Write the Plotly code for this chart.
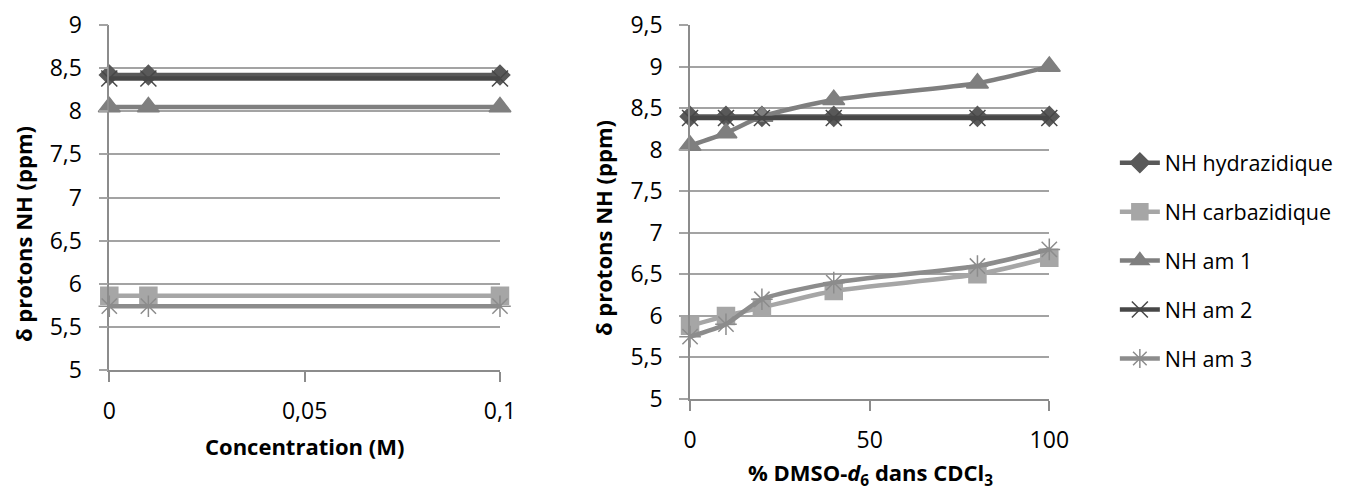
import plotly.graph_objects as go

# ---- data ----
conc_x = [0, 0.01, 0.1]
conc_hydrazidique = [8.42, 8.42, 8.42]
conc_carbazidique = [5.86, 5.86, 5.86]
conc_am1 = [8.05, 8.05, 8.05]
conc_am2 = [8.38, 8.38, 8.38]
conc_am3 = [5.74, 5.74, 5.74]

dmso_x = [0, 10, 20, 40, 80, 100]
dmso_hydrazidique = [8.4, 8.4, 8.4, 8.4, 8.4, 8.4]
dmso_carbazidique = [5.88, 6.0, 6.1, 6.3, 6.5, 6.7]
dmso_am1 = [8.05, 8.2, 8.4, 8.6, 8.8, 9.0]
dmso_am2 = [8.38, 8.38, 8.38, 8.38, 8.38, 8.38]
dmso_am3 = [5.75, 5.9, 6.2, 6.4, 6.6, 6.8]

series_names = ["NH hydrazidique", "NH carbazidique", "NH am 1", "NH am 2", "NH am 3"]

# ---- styles ----
colors = ["#595959", "#a6a6a6", "#7f7f7f", "#474747", "#8c8c8c"]
symbols = ["diamond", "square", "triangle-up", "x-thin-open", "asterisk-open"]
sizes = [15, 17, 19, 16, 18]
FONT = "Open Sans"

fig = go.Figure()

conc_series = [conc_hydrazidique, conc_carbazidique, conc_am1, conc_am2, conc_am3]
dmso_series = [dmso_hydrazidique, dmso_carbazidique, dmso_am1, dmso_am2, dmso_am3]

for i, name in enumerate(series_names):
    fig.add_trace(go.Scatter(
        x=conc_x, y=conc_series[i], name=name, mode="lines+markers",
        line=dict(color=colors[i], width=4.5),
        marker=dict(symbol=symbols[i], size=sizes[i], color=colors[i],
                    line=dict(color=colors[i], width=1.5)),
        xaxis="x", yaxis="y", showlegend=False, cliponaxis=False,
        legendgroup=name,
    ))

for i, name in enumerate(series_names):
    fig.add_trace(go.Scatter(
        x=dmso_x, y=dmso_series[i], name=name, mode="lines+markers",
        line=dict(color=colors[i], width=4.5, shape="spline", smoothing=0.6),
        marker=dict(symbol=symbols[i], size=sizes[i], color=colors[i],
                    line=dict(color=colors[i], width=1.5)),
        xaxis="x2", yaxis="y2", showlegend=True, cliponaxis=False,
        legendgroup=name,
    ))

grid = "#a3a3a3"
axis_line = "#8c8c8c"
tickfont = dict(family=FONT, size=23, color="#000000")

common_y = dict(showgrid=True, gridcolor=grid, gridwidth=1.5, dtick=0.5,
                showline=True, linecolor=axis_line, linewidth=1.5,
                ticks="outside", ticklen=9, tickcolor=grid, tickwidth=1.5,
                tickfont=tickfont, zeroline=False, ticklabelstandoff=12,
                automargin=False)
common_x = dict(showgrid=False, showline=True, linecolor=axis_line, linewidth=1.5,
                ticks="outside", ticklen=10, tickcolor=axis_line, tickwidth=1.5,
                tickfont=tickfont, zeroline=False, ticklabelstandoff=10,
                automargin=False)

fig.update_layout(
    width=1349, height=486,
    margin=dict(l=0, r=0, t=0, b=0, autoexpand=False),
    paper_bgcolor="white", plot_bgcolor="white",
    separators=", ",
    font=dict(family=FONT, size=22, color="#000000"),
    xaxis=dict(domain=[0.0751, 0.3647], range=[0, 0.1], dtick=0.05, anchor="y", **common_x),
    yaxis=dict(domain=[0.2551, 0.965], range=[5, 9], anchor="x", **common_y),
    xaxis2=dict(domain=[0.5056, 0.7719], range=[0, 100], dtick=50, anchor="y2", **common_x),
    yaxis2=dict(domain=[0.1955, 0.965], range=[5, 9.5], anchor="x2", **common_y),
    legend=dict(x=0.8205, y=0.48, xanchor="left", yanchor="middle",
                font=dict(family=FONT, size=21.5, color="#000000"),
                tracegroupgap=18, itemwidth=40, bgcolor="rgba(0,0,0,0)"),
    showlegend=True,
)

# axis-title annotations, placed in paper coordinates (pixel -> fraction)
W, H = 1349, 486
titles = [
    ("<b>Concentration (M)</b>", 0, 296, 438),
    ("<b>δ protons NH (ppm)</b>", -90, 15, 226),
    ("<b>% DMSO-<i>d</i><sub>6</sub> dans CDCl<sub>3</sub></b>", 0, 862, 466),
    ("<b>δ protons NH (ppm)</b>", -90, 595, 220),
]
for text, ang, xp, yp in titles:
    fig.add_annotation(text=text, textangle=ang, x=xp / W, y=1 - yp / H,
                       xref="paper", yref="paper", xanchor="center", yanchor="middle",
                       showarrow=False, font=dict(family=FONT, size=22, color="#000000"))

fig.write_html("out.html")
